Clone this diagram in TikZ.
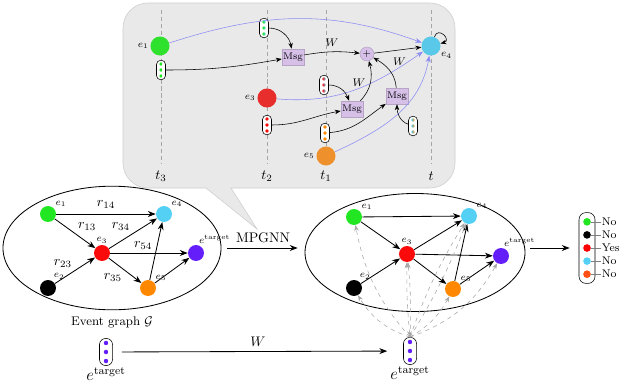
\documentclass[tikz,border=0pt]{standalone}
\usepackage{tikz}
\usetikzlibrary{arrows.meta,positioning,shapes.geometric}

\definecolor{egreen}{RGB}{34,230,34}
\definecolor{ecyan}{RGB}{85,208,245}
\definecolor{ered}{RGB}{250,10,10}
\definecolor{eorange}{RGB}{255,136,0}
\definecolor{eviolet}{RGB}{100,30,250}
\definecolor{oorange}{RGB}{255,80,20}
\definecolor{tgreen}{RGB}{45,225,45}
\definecolor{tred}{RGB}{232,45,45}
\definecolor{torange}{RGB}{238,145,45}
\definecolor{tcyan}{RGB}{90,200,232}
\definecolor{msgblue}{RGB}{140,140,245}
\definecolor{msgpurple}{RGB}{214,192,232}
\definecolor{callfill}{RGB}{233,233,233}
\definecolor{calledge}{RGB}{205,205,205}

\newcommand{\embdots}[5]{%
  \foreach \k in {-1,0,1}
    \shade[left color=#2,right color=#3] ([yshift=\k*#4]#1.center) circle (#5);}

\begin{document}
\begin{tikzpicture}[x=0.72pt,y=-0.72pt,
  ent/.style={circle,inner sep=0pt,minimum size=11.5pt},
  bigent/.style={circle,inner sep=0pt,minimum size=13.7pt},
  vec/.style={draw,fill=white,rounded corners=3pt,inner sep=0pt,minimum width=6.5pt,minimum height=14pt},
  bigvec/.style={vec,rounded corners=4.5pt,minimum width=9.4pt,minimum height=19.5pt},
  msg/.style={fill=msgpurple,draw=msgpurple!85!black,inner sep=0pt,minimum width=15.8pt,minimum height=11.5pt,font=\scriptsize},
  graph/.style={ellipse,draw,semithick,minimum width=157pt,minimum height=89pt},
  lbl/.style={font=\scriptsize,inner sep=1pt},
  arrow/.style={-{Stealth[length=2mm]},semithick},
  tarrow/.style={-{Stealth[length=1.5mm]}},
  flow/.style={-{Stealth[length=1.7mm]},msgblue},
  hint/.style={-{Stealth[length=1.5mm]},dashed,gray!70},
  tline/.style={gray!70,dash pattern=on 3pt off 2pt},
]
\useasboundingbox (0,0) rectangle (623,383);

\filldraw[fill=callfill,draw=calledge] (257,229) -- (206,188) [rounded corners=18pt] -- (123,188) -- (123,3) -- (455,3) -- (455,188) [sharp corners] -- (231,188) -- cycle;

\foreach \x/\t in {161/t_3,267/t_2,326/t_1,431/t}{
  \draw[tline] (\x,10) -- (\x,163);
  \node (t\x) at (\x,176) {$\t$};
}

\node[bigent,fill=tgreen,label={[lbl]180:$e_1$}] (a1) at (160,46) {};
\node[bigent,fill=tcyan,label={[lbl]-30:$e_4$}] (a4) at (431,46) {};
\node[bigent,fill=tred,label={[lbl]180:$e_3$}] (a3) at (267,98) {};
\node[bigent,fill=torange,label={[lbl]180:$e_5$}] (a5) at (326,156) {};
\node[vec] (v1) at (161,70) {};
\node[vec] (v14) at (264,28) {};
\node[vec] (v3) at (267,125) {};
\node[vec] (v34) at (324,85) {};
\node[vec] (v5) at (325,133) {};
\node[vec] (v54) at (413,126) {};
\embdots{v1}{egreen}{egreen}{4.3pt}{1.3pt}
\embdots{v14}{egreen}{ecyan}{4.3pt}{1.3pt}
\embdots{v3}{ered}{ered}{4.3pt}{1.3pt}
\embdots{v34}{ered}{ecyan}{4.3pt}{1.3pt}
\embdots{v5}{eorange}{eorange}{4.3pt}{1.3pt}
\embdots{v54}{ecyan}{eorange}{4.3pt}{1.3pt}
\node[msg] (m1) at (293,57) {Msg};
\node[msg] (m2) at (352,109) {Msg};
\node[msg] (m3) at (397,96) {Msg};
\node[circle,fill=msgpurple,draw=msgpurple!85!black,inner sep=0pt,minimum size=10pt,font=\scriptsize] (sum) at (367,54) {$+$};

\draw[flow] (a1) to[out=18,in=160] (a4);
\draw[flow] (a3) to[out=-5,in=215] (a4);
\draw[flow] (a5) to[out=25,in=260] (a4);
\draw[tarrow] (v1) to[out=0,in=190] (m1);
\draw[tarrow] (v14) to[out=0,in=100] (m1);
\draw[tarrow] (m1) to[bend left=8] node[above,font=\footnotesize] (w1) {$W$} (sum);
\draw[tarrow] (sum) -- (a4);
\draw[tarrow] (v3) to[out=0,in=190] (m2);
\draw[tarrow] (v34) to[out=0,in=110] (m2);
\draw[tarrow] (m2) to[out=45,in=-75] node[left,font=\footnotesize] (w2) {$W$} (sum);
\draw[tarrow] (v5) to[out=5,in=215] (m3);
\draw[tarrow] (v54) to[out=160,in=-90] (m3);
\draw[tarrow] (m3) to[out=95,in=-30] node[above right=-1pt,font=\footnotesize] (w3) {$W$} (sum);
\draw[tarrow] (a4) to[out=70,in=15,min distance=3mm] (a4);

\node[graph] (g1) at (112,248) {};
\node[ent,fill=egreen,label={[lbl]45:$e_1$}] (b1) at (48,214) {};
\node[ent,fill=ecyan,label={[lbl]45:$e_4$}] (b4) at (164,214) {};
\node[ent,fill=ered,label={[lbl]90:$e_3$}] (b3) at (102,253) {};
\node[ent,fill=eviolet,label={[lbl]80:$e^{\mathrm{target}}$}] (bt) at (196,253) {};
\node[ent,fill=black,label={[lbl]60:$e_2$}] (b2) at (48,288) {};
\node[ent,fill=eorange,label={[lbl]45:$e_5$}] (b5) at (148,288) {};
\draw[arrow] (b1) -- node[above] {$r_{14}$} (b4);
\draw[arrow] (b1) -- node[above right=-2pt] {$r_{13}$} (b3);
\draw[arrow] (b3) -- node[above left=-2pt] {$r_{34}$} (b4);
\draw[arrow] (b3) -- (bt);
\draw[arrow] (b2) -- node[above left=-2pt] {$r_{23}$} (b3);
\draw[arrow] (b3) -- node[below left=-2pt] {$r_{35}$} (b5);
\draw[arrow] (b5) -- node[pos=0.6,left] {$r_{54}$} (b4);
\draw[arrow] (b5) -- (bt);
\node[below=1pt of g1,font=\small] (cap) {Event graph $\mathcal{G}$};

\node[graph,minimum width=158.4pt,minimum height=85pt] (g2) at (415,252.5) {};
\node[ent,fill=egreen,label={[lbl]45:$e_1$}] (c1) at (354,217) {};
\node[ent,fill=ecyan,label={[lbl]45:$e_4$}] (c4) at (469,216) {};
\node[ent,fill=ered,label={[lbl]90:$e_3$}] (c3) at (407,254) {};
\node[ent,fill=eviolet,label={[lbl]80:$e^{\mathrm{target}}$}] (ct) at (501,256) {};
\node[ent,fill=black,label={[lbl]60:$e_2$}] (c2) at (354,288) {};
\node[ent,fill=eorange,label={[lbl]45:$e_5$}] (c5) at (453,289) {};
\foreach \s/\e in {c1/c4,c1/c3,c3/c4,c3/ct,c2/c3,c3/c5,c5/c4,c5/ct}
  \draw[arrow] (\s) -- (\e);

\draw[arrow,shorten <=4pt,shorten >=5pt] (g1.east) -- node[above] (mp) {MPGNN} (g1.east -| g2.west);

\node[bigvec] (tv1) at (106,352) {};
\node[bigvec] (tv2) at (410,351) {};
\embdots{tv1}{eviolet}{eviolet}{6.5pt}{1.6pt}
\embdots{tv2}{eviolet}{eviolet}{6.5pt}{1.6pt}
\node[below=-2.5pt of tv1,font=\large] (tl1) {$e^{\mathrm{target}}$};
\node[below=-2.5pt of tv2,font=\large] (tl2) {$e^{\mathrm{target}}$};
\draw[arrow,shorten <=6.5pt,shorten >=11.5pt] (tv1) -- node[above] (w4) {$W$} (tv2);

\draw[hint] (tv2.north) to[bend left=15] (c1);
\draw[hint] (tv2.north) to[bend left=20] (c2);
\draw[hint,{Stealth[length=1.5mm]}-{Stealth[length=1.5mm]}] (tv2.north) to[bend left=3] (c3);
\draw[hint] (tv2.north) to[bend right=4] (c3);
\draw[hint] (tv2.north) to[bend right=5] (c4);
\draw[hint] (tv2.north) to[bend left=6] (c4);
\draw[hint] (tv2.north) to[bend right=15] (c5);
\draw[hint] (tv2.north) to[bend right=20] (ct);

\node[draw,rounded corners=5pt,minimum width=11.5pt,minimum height=51pt,inner sep=0pt] (ov) at (587,248) {};
\draw[arrow,shorten <=3.5pt,shorten >=6.5pt] (g2.east |- ov.west) -- (ov.west);
\foreach \c/\t [count=\i] in {egreen/No,black/No,red/Yes,ecyan/No,oorange/No}{
  \node[circle,inner sep=0pt,minimum size=5.5pt,fill=\c] (o\i) at (587,208.7+13.1*\i) {};
  \node[right=7pt of o\i,inner sep=0.5pt,font=\footnotesize] (ot\i) {\t};
  \draw[gray] (o\i) -- (ot\i);
}
\end{tikzpicture}
\end{document}
